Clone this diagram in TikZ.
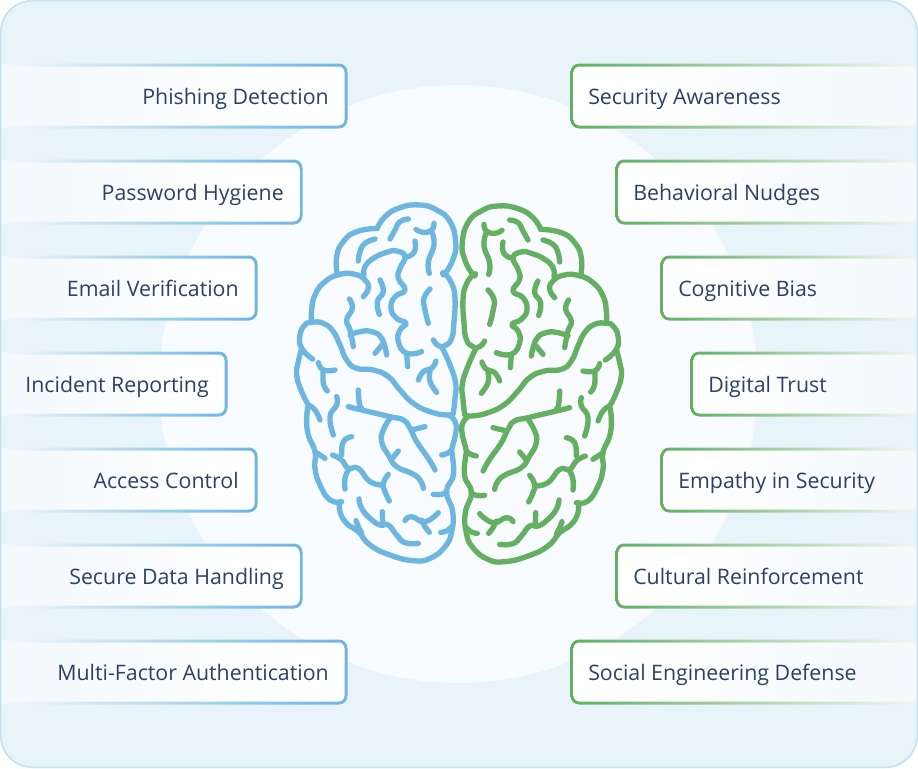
\documentclass[tikz,border=0pt]{standalone}
\usepackage{fontspec}
\setmainfont{Open Sans}

\definecolor{framefill}{HTML}{E8F3FA}
\definecolor{frameline}{HTML}{C5E0F2}
\definecolor{discfill}{HTML}{F8FBFF}
\definecolor{blueline}{HTML}{6CB6E0}
\definecolor{greenline}{HTML}{64AF62}
\definecolor{bluefade}{HTML}{F3F9FD}
\definecolor{greenfade}{HTML}{F0F8F0}
\definecolor{bandfill}{HTML}{F4F9FD}
\definecolor{labeltext}{HTML}{2C4163}

\tikzset{
  bandtext/.style={font=\fontsize{16}{19}\selectfont, text=labeltext, inner sep=0pt},
  brainline/.style={line width=4pt, line cap=round, line join=round},
  curve/.style={smooth, tension=.85}
}

% One half of the brain, in units of 1/3 px
\newcommand{\brainhalf}{
% Outer outline
\draw[brainline] plot[curve] coordinates {(458,233) (465,236) (490,190) (497,140) (480,80) (440,45) (390,30) (330,38) (285,65) (262,100)};
\draw[brainline] plot[curve] coordinates {(262,100) (200,110) (160,140) (140,185) (142,238)};
\draw[brainline] plot[curve] coordinates {(220,305) (235,280) (225,255) (195,238) (150,238) (105,260) (75,300) (65,345) (65,382)};
\draw[brainline] plot[curve] coordinates {(68,492) (35,460) (30,420) (45,390) (65,382) (100,385) (130,410) (150,450) (170,495) (200,520) (250,525) (295,545) (330,585) (370,625) (420,650) (470,660) (490,655)};
\draw[brainline] plot[curve] coordinates {(430,435) (445,452) (465,452) (485,430) (492,380) (495,310) (485,265) (465,236)};
\draw[brainline] plot[curve] coordinates {(455,455) (480,510) (497,565) (495,610) (490,655)};
\draw[brainline] plot[curve] coordinates {(35,460) (25,500) (20,540) (35,590) (55,630)};
\draw[brainline] plot[curve] coordinates {(55,630) (75,645) (90,675)};
\draw[brainline] plot[curve] coordinates {(55,630) (50,670) (55,720) (75,770) (75,820) (90,870) (120,915) (155,920)};
\draw[brainline] plot[curve] coordinates {(75,770) (105,790)};
\draw[brainline] plot[curve] coordinates {(150,920) (150,950) (170,985) (205,1010) (240,1050) (300,1080) (370,1097) (420,1090) (465,1055) (485,1010) (488,950) (470,890) (490,840) (487,780) (485,765) (498,710) (495,680) (480,662)};
\draw[brainline] plot[curve] coordinates {(430,898) (455,898) (470,890)};
\draw[brainline] plot[curve] coordinates {(455,780) (472,775) (485,765)};
\draw[brainline] plot[curve] coordinates {(485,995) (470,1008) (452,1012)};
\draw[brainline] plot[curve] coordinates {(198,977) (205,995) (215,1015)};
% Folds of the upper part
\draw[brainline] plot[curve] coordinates {(355,72) (330,80) (315,105) (300,132)};
\draw[brainline] plot[curve] coordinates {(432,85) (425,105) (400,112) (378,103)};
\draw[brainline] plot[curve] coordinates {(425,110) (432,150) (415,200) (418,235)};
\draw[brainline] plot[curve] coordinates {(255,132) (225,145) (210,170) (205,198)};
\draw[brainline] plot[curve] coordinates {(222,240) (225,215) (250,190) (290,172) (320,168) (345,185) (330,220) (325,250) (345,285) (315,305) (303,340) (320,370) (348,385) (330,405) (325,440) (350,475) (395,470)};
\draw[brainline] plot[curve] coordinates {(375,138) (375,165) (360,183) (345,185)};
\draw[brainline] plot[curve] coordinates {(350,475) (353,515)};
\draw[brainline] plot[curve] coordinates {(270,255) (280,290) (262,320) (268,358)};
\draw[brainline] plot[curve] coordinates {(178,312) (187,340) (170,375) (180,405) (190,455)};
\draw[brainline] plot[curve] coordinates {(180,420) (210,410) (245,410) (275,430) (290,480)};
\draw[brainline] plot[curve] coordinates {(255,475) (280,445)};
\draw[brainline] plot[curve] coordinates {(420,282) (402,310) (405,345) (415,385)};
\draw[brainline] plot[curve] coordinates {(85,503) (100,525) (135,525)};
\draw[brainline] plot[curve] coordinates {(100,525) (100,565) (112,588)};
\draw[brainline] plot[curve] coordinates {(438,498) (425,520) (400,530) (385,555)};
\draw[brainline] plot[curve] coordinates {(420,530) (420,560) (440,592)};
% Folds of the lower part
\draw[brainline] plot[curve] coordinates {(140,605) (140,630) (120,665) (130,720)};
\draw[brainline] plot[curve] coordinates {(205,585) (208,625) (215,640)};
\draw[brainline] plot[curve] coordinates {(175,635) (215,645) (300,665) (340,675) (360,700) (380,740) (415,790) (435,825)};
\draw[brainline] plot[curve] coordinates {(365,705) (405,695)};
\draw[brainline] plot[curve] coordinates {(300,670) (280,705) (275,740) (295,780) (320,815) (365,835) (390,855) (400,880)};
\draw[brainline] plot[curve] coordinates {(325,768) (305,792)};
\draw[brainline] plot[curve] coordinates {(185,725) (160,740) (155,780)};
\draw[brainline] plot[curve] coordinates {(128,780) (155,795) (175,820) (205,820) (240,860) (280,870)};
\draw[brainline] plot[curve] coordinates {(175,825) (165,850) (165,882)};
\draw[brainline] plot[curve] coordinates {(295,838) (280,865) (285,890) (298,918)};
\draw[brainline] plot[curve] coordinates {(207,912) (215,940) (240,970) (270,990) (295,990) (320,1020) (345,1043) (385,1045)};
\draw[brainline] plot[curve] coordinates {(277,950) (278,985)};
\draw[brainline] plot[curve] coordinates {(345,977) (365,965) (405,980) (445,953)};
\draw[brainline] plot[curve] coordinates {(395,975) (405,995) (418,1012)};
}

\begin{document}
\begin{tikzpicture}[x=.75pt,y=-.75pt]
\useasboundingbox (0,0) rectangle (918,768);

% Backdrop
\fill[framefill,rounded corners=24pt] (0,0) rectangle (918,768);
\fill[discfill] (458.5,384) circle (299);

% Left bands
\foreach \yy/\xr/\nm/\txt in {64/347/phishing/Phishing Detection, 160/302/password/Password Hygiene, 256/257/email/Email Verification, 352/227/incident/Incident Reporting, 448/257/access/Access Control, 544/302/handling/Secure Data Handling, 640/347/mfa/Multi-Factor Authentication}{
  \shade[left color=bluefade,right color=blueline] (1,\yy-.5) [rounded corners=6.5pt] -- (\xr+.5,\yy-.5) -- (\xr+.5,\yy+64.5) [sharp corners] -- (1,\yy+64.5) -- cycle;
  \shade[left color=bandfill,middle color=white,right color=white] (1,\yy+2.5) [rounded corners=4.5pt] -- (\xr-2.5,\yy+2.5) -- (\xr-2.5,\yy+61.5) [sharp corners] -- (1,\yy+61.5) -- cycle;
  \node[bandtext,anchor=base east] (\nm) at (\xr-18,\yy+40) {\txt};
}

% Right bands
\foreach \yy/\xl/\nm/\txt in {64/571/awareness/Security Awareness, 160/616/nudges/Behavioral Nudges, 256/661/bias/Cognitive Bias, 352/691/trust/Digital Trust, 448/661/empathy/Empathy in Security, 544/616/culture/Cultural Reinforcement, 640/571/social/Social Engineering Defense}{
  \shade[right color=greenfade,left color=greenline] (917,\yy-.5) [rounded corners=6.5pt] -- (\xl-.5,\yy-.5) -- (\xl-.5,\yy+64.5) [sharp corners] -- (917,\yy+64.5) -- cycle;
  \shade[right color=bandfill,middle color=white,left color=white] (917,\yy+2.5) [rounded corners=4.5pt] -- (\xl+2.5,\yy+2.5) -- (\xl+2.5,\yy+61.5) [sharp corners] -- (917,\yy+61.5) -- cycle;
  \node[bandtext,anchor=base west] (\nm) at (\xl+17,\yy+40) {\txt};
}

% Frame on top of the bands
\draw[frameline,line width=1.1pt,rounded corners=24pt] (.7,.7) rectangle (917.3,767.3);

% Brain
\begin{scope}[shift={(290,195)},x=.25pt,y=-.25pt,draw=blueline]
\brainhalf
\end{scope}
\begin{scope}[xscale=-1,shift={(-918,1)}]
\begin{scope}[shift={(290,195)},x=.25pt,y=-.25pt,draw=greenline]
\brainhalf
\end{scope}
\end{scope}

\end{tikzpicture}
\end{document}
